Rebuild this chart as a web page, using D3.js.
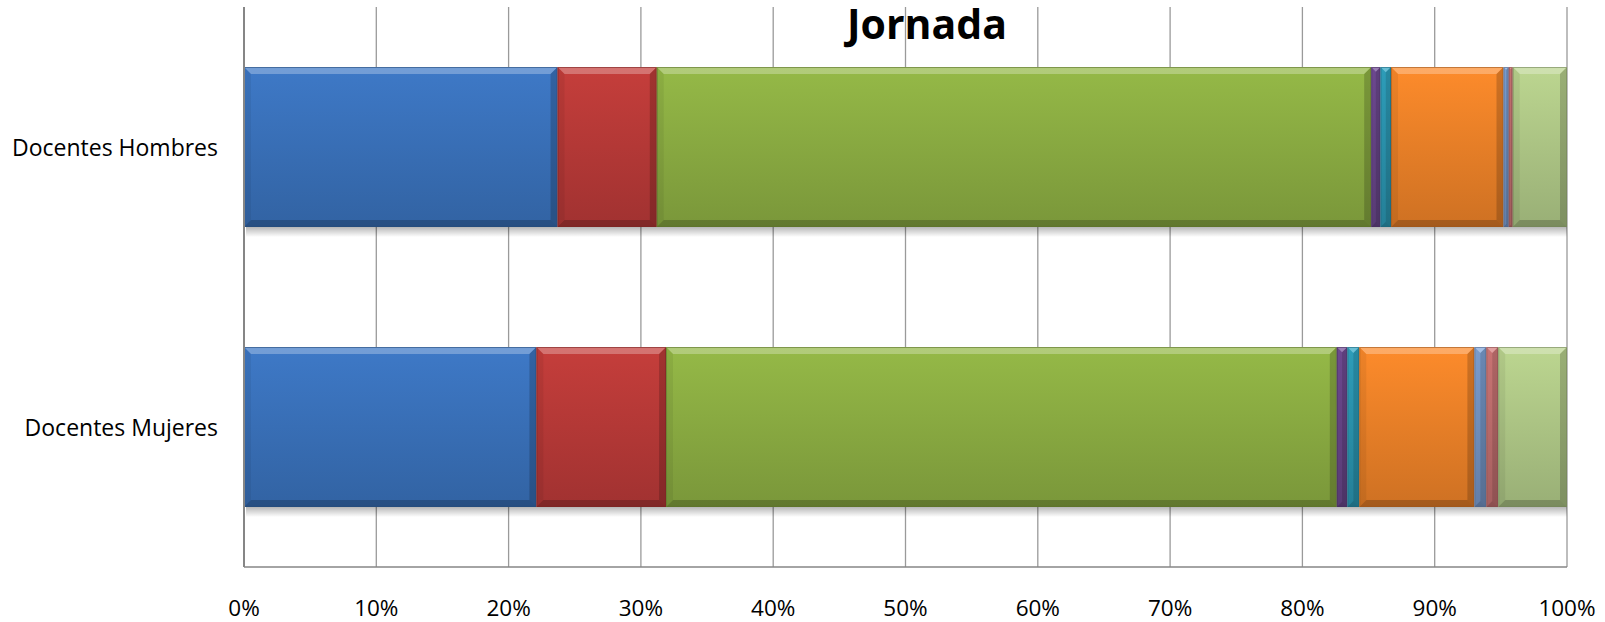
<!DOCTYPE html>
<html>
<head>
<meta charset="utf-8">
<script src="https://cdn.jsdelivr.net/npm/d3@7"></script>
<style>
  html, body { margin: 0; padding: 0; background: #ffffff; }
  svg { display: block; }
  text { font-family: "Open Sans", "Noto Sans", sans-serif; fill: #000; }
</style>
</head>
<body>
<svg id="chart" width="1605" height="622"></svg>
<script>
// ---- Data ----
const title = "Jornada";
const categories = ["Docentes Hombres", "Docentes Mujeres"];
const seriesNames = ["Serie 1", "Serie 2", "Serie 3", "Serie 4", "Serie 5", "Serie 6", "Serie 7", "Serie 8", "Serie 9"];
const hombresValues = [23.7, 7.5, 54.0, 0.7, 0.8, 8.5, 0.4, 0.3, 4.1];
const mujeresValues = [22.1, 9.8, 50.7, 0.8, 0.9, 8.7, 0.9, 0.9, 5.2];
const tickValues = [0, 10, 20, 30, 40, 50, 60, 70, 80, 90, 100];
const tickLabels = ["0%", "10%", "20%", "30%", "40%", "50%", "60%", "70%", "80%", "90%", "100%"];
const seriesColors = ["#3b74bf", "#bd3b39", "#8fb144", "#6e4a92", "#2ea0bd", "#f28529", "#7c9fd2", "#cd7676", "#b4cd8a"];

// ---- Build table ----
const valuesByCategory = [hombresValues, mujeresValues];
const rows = categories.map((c, i) => {
  const r = { category: c };
  seriesNames.forEach((s, j) => { r[s] = valuesByCategory[i][j]; });
  return r;
});
const stacked = d3.stack().keys(seriesNames)(rows);

// ---- Layout ----
const svg = d3.select("#chart");
const plot = { left: 244, right: 1567, top: 7, bottom: 567 };

const x = d3.scaleLinear().domain([0, 100]).range([plot.left, plot.right]);
const y = d3.scaleBand().domain(categories)
  .range([plot.top, plot.bottom])
  .paddingInner(0.4286).paddingOuter(0.2143);

const defs = svg.append("defs");
seriesColors.forEach((c, i) => {
  const base = d3.color(c);
  const g = defs.append("linearGradient").attr("id", "grad" + i)
    .attr("x1", 0).attr("y1", 0).attr("x2", 0).attr("y2", 1);
  g.append("stop").attr("offset", "0%").attr("stop-color", base.brighter(0.12).formatHex());
  g.append("stop").attr("offset", "100%").attr("stop-color", base.darker(0.45).formatHex());
});
const sh = defs.append("linearGradient").attr("id", "shadow")
  .attr("x1", 0).attr("y1", 0).attr("x2", 0).attr("y2", 1);
sh.append("stop").attr("offset", "0%").attr("stop-color", "#000").attr("stop-opacity", 0.28);
sh.append("stop").attr("offset", "100%").attr("stop-color", "#000").attr("stop-opacity", 0);

// ---- Gridlines ----
svg.append("g").selectAll("line").data(tickValues.slice(1)).join("line")
  .attr("x1", d => x(d)).attr("x2", d => x(d))
  .attr("y1", plot.top).attr("y2", plot.bottom)
  .attr("stroke", "#9a9a9a").attr("stroke-width", 1.3);

// ---- Title ----
svg.append("text").attr("x", 927).attr("y", 39)
  .attr("text-anchor", "middle")
  .attr("font-size", 41).attr("font-weight", "bold")
  .text(title);

// ---- Bar shadows ----
svg.append("g").selectAll("rect").data(categories).join("rect")
  .attr("x", x(0) + 2).attr("width", x(100) - x(0) - 2)
  .attr("y", d => y(d) + y.bandwidth()).attr("height", 10)
  .attr("fill", "url(#shadow)");

// ---- Bars ----
const bev = 7;
const barsG = svg.append("g");
stacked.forEach((layer, li) => {
  const base = d3.color(seriesColors[li]);
  layer.forEach(seg => {
    const cat = seg.data.category;
    const x0 = x(seg[0]), x1 = x(seg[1]);
    const y0 = y(cat), y1 = y(cat) + y.bandwidth();
    const w = x1 - x0;
    const b = Math.min(bev, w / 2);
    const g = barsG.append("g");
    g.append("rect").attr("x", x0).attr("y", y0).attr("width", w).attr("height", y1 - y0)
      .attr("fill", "url(#grad" + li + ")");
    g.append("polygon").attr("points", [[x0, y0], [x1, y0], [x1 - b, y0 + b], [x0 + b, y0 + b]].join(" "))
      .attr("fill", "#ffffff").attr("fill-opacity", 0.28);
    g.append("polygon").attr("points", [[x0, y1], [x1, y1], [x1 - b, y1 - b], [x0 + b, y1 - b]].join(" "))
      .attr("fill", "#000000").attr("fill-opacity", 0.2);
    g.append("polygon").attr("points", [[x0, y0], [x0 + b, y0 + b], [x0 + b, y1 - b], [x0, y1]].join(" "))
      .attr("fill", "#000000").attr("fill-opacity", 0.06);
    g.append("polygon").attr("points", [[x1, y0], [x1 - b, y0 + b], [x1 - b, y1 - b], [x1, y1]].join(" "))
      .attr("fill", "#000000").attr("fill-opacity", 0.18);
    g.append("rect").attr("x", x0 + 0.5).attr("y", y0 + 0.5).attr("width", Math.max(0, w - 1)).attr("height", y1 - y0 - 1)
      .attr("fill", "none").attr("stroke", base.darker(1.2).formatHex()).attr("stroke-opacity", 0.6).attr("stroke-width", 1);
  });
});

// ---- Axes lines ----
svg.append("line").attr("x1", plot.left).attr("x2", plot.left)
  .attr("y1", plot.top).attr("y2", plot.bottom)
  .attr("stroke", "#868686").attr("stroke-width", 2);
svg.append("line").attr("x1", plot.left).attr("x2", plot.right)
  .attr("y1", plot.bottom).attr("y2", plot.bottom)
  .attr("stroke", "#868686").attr("stroke-width", 1.5);

// ---- X tick labels ----
svg.append("g").selectAll("text").data(tickValues).join("text")
  .attr("x", d => x(d)).attr("y", 616)
  .attr("text-anchor", "middle").attr("font-size", 22.5)
  .text((d, i) => tickLabels[i]);

// ---- Category labels ----
svg.append("g").selectAll("text").data(categories).join("text")
  .attr("x", 218).attr("y", d => y(d) + y.bandwidth() / 2 + 8.5)
  .attr("text-anchor", "end").attr("font-size", 23)
  .text(d => d);
</script>
</body>
</html>
